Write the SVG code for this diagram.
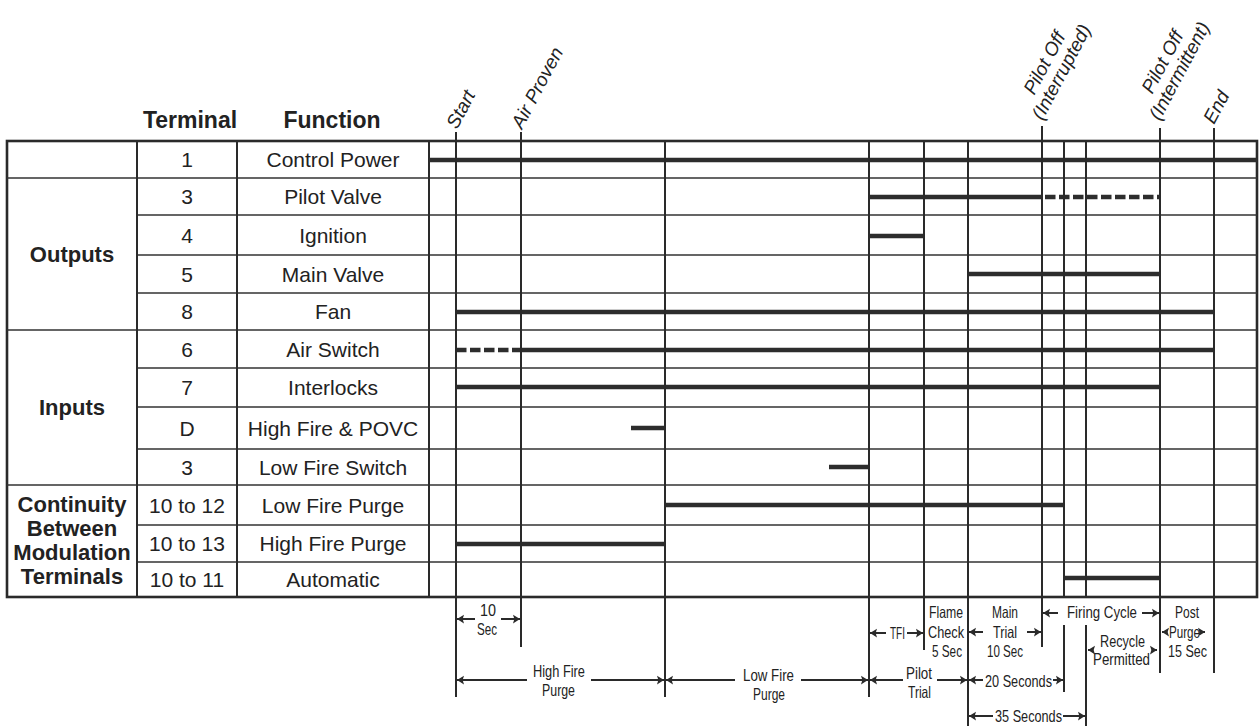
<svg xmlns="http://www.w3.org/2000/svg" width="1259" height="727" viewBox="0 0 1259 727">
<defs>
<style>
.t{font-family:"Liberation Sans",Arial,sans-serif;font-size:21px;fill:#222;text-anchor:middle}
.b{font-family:"Liberation Sans",Arial,sans-serif;font-size:22px;font-weight:bold;fill:#222;text-anchor:middle}
.h{font-family:"Liberation Sans",Arial,sans-serif;font-size:23px;font-weight:bold;fill:#222;text-anchor:middle}
.r{font-family:"Liberation Sans",Arial,sans-serif;font-size:19px;font-style:italic;fill:#222}
.s{font-family:"Liberation Sans",Arial,sans-serif;font-size:16.5px;fill:#222;text-anchor:middle}
.g{stroke:#333;stroke-width:1.6;fill:none}
.v{stroke:#2a2a2a;stroke-width:2;fill:none}
.bar{stroke:#2d2d2d;stroke-width:4.5;fill:none}
.dash{stroke:#2d2d2d;stroke-width:4.5;fill:none;stroke-dasharray:10.5 3.5}
.a{stroke:#2a2a2a;stroke-width:2;fill:none}
.as{marker-start:url(#ah)}
.ae{marker-end:url(#ah)}
</style>
<marker id="ah" viewBox="0 0 8 10" refX="8" refY="5" markerWidth="7" markerHeight="10" markerUnits="userSpaceOnUse" orient="auto-start-reverse">
<path d="M0,0 L8,5 L0,10 L1.5,5 z" fill="#2a2a2a"/>
</marker>
</defs>
<rect width="1259" height="727" fill="#fff"/>

<g id="header">
<text class="h" x="190" y="128">Terminal</text>
<text class="h" x="332" y="128">Function</text>
</g>

<g id="table-grid">
<rect x="7" y="141" width="1250" height="456" fill="none" stroke="#2a2a2a" stroke-width="2.6"/>
<path class="g" d="M7,178H1257M137,215H1257M137,255H1257M137,293H1257M7,330H1257M137,368H1257M137,407H1257M137,449H1257M7,485H1257M137,525H1257M137,562H1257"/>
<path class="v" d="M137,141V597M237,141V597M429,141V597"/>
</g>

<g id="group-outputs"><text class="b" x="72" y="262">Outputs</text></g>
<g id="group-inputs"><text class="b" x="72" y="415">Inputs</text></g>
<g id="group-continuity">
<text class="b" x="72" y="512">Continuity</text>
<text class="b" x="72" y="536">Between</text>
<text class="b" x="72" y="560">Modulation</text>
<text class="b" x="72" y="584">Terminals</text>
</g>

<g id="row-control-power"><text class="t" x="187" y="167">1</text><text class="t" x="333" y="167">Control Power</text><path class="bar" d="M429,160H1257"/></g>
<g id="row-pilot-valve"><text class="t" x="187" y="204">3</text><text class="t" x="333" y="204">Pilot Valve</text><path class="bar" d="M869,197H1042"/><path class="dash" d="M1045,197H1160"/></g>
<g id="row-ignition"><text class="t" x="187" y="243">4</text><text class="t" x="333" y="243">Ignition</text><path class="bar" d="M869,236H924"/></g>
<g id="row-main-valve"><text class="t" x="187" y="282">5</text><text class="t" x="333" y="282">Main Valve</text><path class="bar" d="M968,274H1160"/></g>
<g id="row-fan"><text class="t" x="187" y="319">8</text><text class="t" x="333" y="319">Fan</text><path class="bar" d="M456,312H1214"/></g>
<g id="row-air-switch"><text class="t" x="187" y="357">6</text><text class="t" x="333" y="357">Air Switch</text><path class="dash" d="M456,350H521"/><path class="bar" d="M521,350H1214"/></g>
<g id="row-interlocks"><text class="t" x="187" y="395">7</text><text class="t" x="333" y="395">Interlocks</text><path class="bar" d="M456,387H1160"/></g>
<g id="row-high-fire-povc"><text class="t" x="187" y="436">D</text><text class="t" x="333" y="436">High Fire &amp; POVC</text><path class="bar" d="M631,428H665"/></g>
<g id="row-low-fire-switch"><text class="t" x="187" y="475">3</text><text class="t" x="333" y="475">Low Fire Switch</text><path class="bar" d="M829,467H869"/></g>
<g id="row-low-fire-purge"><text class="t" x="187" y="513">10 to 12</text><text class="t" x="333" y="513">Low Fire Purge</text><path class="bar" d="M665,505H1064"/></g>
<g id="row-high-fire-purge"><text class="t" x="187" y="551">10 to 13</text><text class="t" x="333" y="551">High Fire Purge</text><path class="bar" d="M456,544H665"/></g>
<g id="row-automatic"><text class="t" x="187" y="587">10 to 11</text><text class="t" x="333" y="587">Automatic</text><path class="bar" d="M1064,578H1160"/></g>

<g id="event-labels">
<text class="r" transform="translate(457,130) rotate(-62)">Start</text>
<text class="r" transform="translate(522,130) rotate(-62)">Air Proven</text>
<text class="r" text-anchor="middle" transform="translate(1050,66) rotate(-62)">Pilot Off</text>
<text class="r" text-anchor="middle" transform="translate(1067,75) rotate(-62)">(Interrupted)</text>
<text class="r" text-anchor="middle" transform="translate(1168,65) rotate(-62)">Pilot Off</text>
<text class="r" text-anchor="middle" transform="translate(1185,74) rotate(-62)">(Intermittent)</text>
<text class="r" transform="translate(1214,125) rotate(-62)">End</text>
</g>

<g id="connectors">
<path class="v" d="M456,132V697M521,132V647M665,141V697M869,141V697M924,141V650M968,141V726M1042,126V647M1064,141V597M1064,625V692M1086,141V597M1086,625V726M1160,128V673M1214,128V673"/>
<path class="a as" d="M457,619H475"/><path class="a ae" d="M501,619H520"/>
<path class="a as" d="M457,680H527"/><path class="a ae" d="M591,680H664"/>
<path class="a as" d="M666,680H735"/><path class="a ae" d="M801,680H868"/>
<path class="a as" d="M870,680H903"/><path class="a ae" d="M937,680H967"/>
<path class="a as" d="M870,633H886"/><path class="a ae" d="M907,633H923"/>
<path class="a as" d="M969,632H983"/><path class="a ae" d="M1027,632H1041"/>
<path class="a as" d="M1043,613H1058"/><path class="a ae" d="M1142,613H1159"/>
<path class="a as" d="M1088,650H1092"/><path class="a ae" d="M1153,650H1157"/>
<path class="a as" d="M1162,632H1166"/><path class="a ae" d="M1201,632H1205"/>
<path class="a as" d="M969,680H983"/><path class="a ae" d="M1053,680H1063"/>
<path class="a as" d="M969,716H993"/><path class="a ae" d="M1063,716H1085"/>
</g>

<g id="interval-labels">
<text class="s" x="488" y="616" textLength="16" lengthAdjust="spacingAndGlyphs">10</text>
<text class="s" x="487" y="635" textLength="20" lengthAdjust="spacingAndGlyphs">Sec</text>
<text class="s" x="559" y="677" textLength="52" lengthAdjust="spacingAndGlyphs">High Fire</text>
<text class="s" x="558.5" y="696" textLength="33" lengthAdjust="spacingAndGlyphs">Purge</text>
<text class="s" x="768.5" y="681" textLength="51" lengthAdjust="spacingAndGlyphs">Low Fire</text>
<text class="s" x="769" y="700" textLength="32" lengthAdjust="spacingAndGlyphs">Purge</text>
<text class="s" x="897.5" y="639" textLength="15" lengthAdjust="spacingAndGlyphs">TFI</text>
<text class="s" x="946" y="618" textLength="34" lengthAdjust="spacingAndGlyphs">Flame</text>
<text class="s" x="946" y="638" textLength="36" lengthAdjust="spacingAndGlyphs">Check</text>
<text class="s" x="947" y="657" textLength="30" lengthAdjust="spacingAndGlyphs">5 Sec</text>
<text class="s" x="1005" y="618" textLength="26" lengthAdjust="spacingAndGlyphs">Main</text>
<text class="s" x="1005" y="638" textLength="24" lengthAdjust="spacingAndGlyphs">Trial</text>
<text class="s" x="1005" y="657" textLength="36" lengthAdjust="spacingAndGlyphs">10 Sec</text>
<text class="s" x="1102" y="618" textLength="70" lengthAdjust="spacingAndGlyphs">Firing Cycle</text>
<text class="s" x="1122.5" y="647" textLength="45" lengthAdjust="spacingAndGlyphs">Recycle</text>
<text class="s" x="1121.5" y="665" textLength="57" lengthAdjust="spacingAndGlyphs">Permitted</text>
<text class="s" x="1187" y="618" textLength="24" lengthAdjust="spacingAndGlyphs">Post</text>
<text class="s" x="1184.5" y="638" textLength="31" lengthAdjust="spacingAndGlyphs">Purge</text>
<text class="s" x="1187.5" y="657" textLength="39" lengthAdjust="spacingAndGlyphs">15 Sec</text>
<text class="s" x="919" y="679" textLength="26" lengthAdjust="spacingAndGlyphs">Pilot</text>
<text class="s" x="919.5" y="698" textLength="23" lengthAdjust="spacingAndGlyphs">Trial</text>
<text class="s" x="1018.5" y="687" textLength="67" lengthAdjust="spacingAndGlyphs">20 Seconds</text>
<text class="s" x="1028.5" y="722" textLength="67" lengthAdjust="spacingAndGlyphs">35 Seconds</text>
</g>
</svg>
